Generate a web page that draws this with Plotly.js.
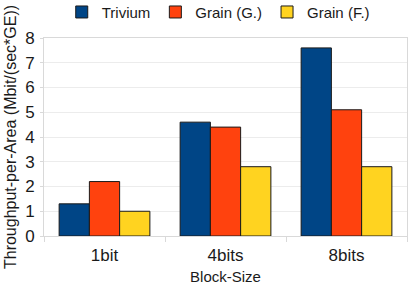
<!DOCTYPE html>
<html>
<head>
<meta charset="utf-8">
<script src="https://cdn.plot.ly/plotly-3.0.1.min.js"></script>
<style>html,body{margin:0;padding:0;background:#fff;}#chart{width:415px;height:291px;}</style>
</head>
<body>
<div id="chart"></div>
<script>
const categories = ["1bit", "4bits", "8bits"];
const seriesNames = ["Trivium", "Grain (G.)", "Grain (F.)"];
const trivium = [1.3, 4.6, 7.6];
const grainG = [2.2, 4.4, 5.1];
const grainF = [1.0, 2.8, 2.8];
const colors = ["#004586", "#ff420e", "#ffd320"];
const yTicks = [0, 1, 2, 3, 4, 5, 6, 7, 8];

const seriesValues = [trivium, grainG, grainF];
const data = seriesValues.map((vals, i) => ({
  type: "bar",
  name: seriesNames[i],
  x: categories,
  y: vals,
  marker: {color: colors[i], line: {color: "#1a1a1a", width: 1}}
}));

const fam = "Liberation Sans, Arial, sans-serif";
const f = (s) => ({family: fam, size: s, color: "#1a1a1a"});
const layout = {
  width: 415, height: 291,
  margin: {l: 44, r: 8, t: 38, b: 55, autoexpand: false},
  paper_bgcolor: "#fff", plot_bgcolor: "#fff",
  font: f(15),
  barmode: "group",
  bargap: 0.25,
  bargroupgap: 0,
  showlegend: true,
  legend: {orientation: "h", x: 0.48, xanchor: "center", yref: "container", y: 0.958, yanchor: "middle",
           font: f(15), itemwidth: 30, tracegroupgap: 0},
  xaxis: {
    type: "category",
    tickson: "boundaries", ticks: "outside", ticklen: 5, tickcolor: "#d9d9d9",
    showline: true, linecolor: "#d9d9d9", mirror: true,
    showgrid: false,
    tickfont: f(17), ticklabelstandoff: 4,
    title: {text: "Block-Size", font: f(15), standoff: 7}
  },
  yaxis: {
    range: [0, 8], tickvals: yTicks, ticktext: yTicks.map(String),
    ticks: "outside", ticklen: 3, tickcolor: "#d9d9d9",
    showline: true, linecolor: "#d9d9d9", mirror: true,
    showgrid: true, gridcolor: "#ececec", zeroline: false,
    tickfont: f(17), ticklabelstandoff: 2,
    title: {text: "Throughput-per-Area (Mbit/(sec*GE))", font: f(16), standoff: 4}
  }
};
Plotly.newPlot("chart", data, layout, {displayModeBar: false, staticPlot: true});
</script>
</body>
</html>
